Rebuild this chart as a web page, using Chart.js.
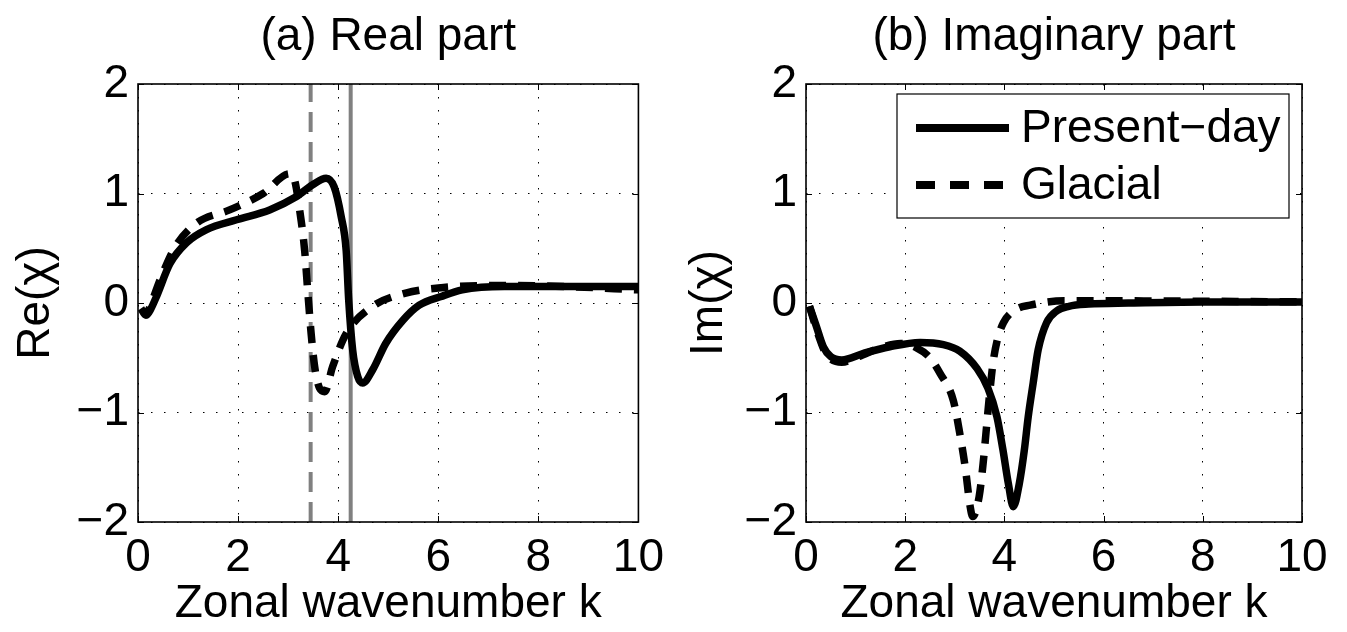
<!DOCTYPE html>
<html><head><meta charset="utf-8">
<script src="https://cdn.jsdelivr.net/npm/chart.js@4.4.0/dist/chart.umd.min.js"></script>
<style>
html,body{margin:0;padding:0;background:#fff;}
#wrap{position:relative;width:1347px;height:632px;overflow:hidden;background:#fff;}
canvas{position:absolute;top:0;}
</style></head><body>
<div id="wrap">
<canvas id="c1" width="673" height="632" style="left:0"></canvas>
<canvas id="c2" width="674" height="632" style="left:673px"></canvas>
</div>
<script>
// ---- data ----
const xTicks = [0, 2, 4, 6, 8, 10];
const yTicks = [-2, -1, 0, 1, 2];
const seriesLabels = ['Present\u2212day', 'Glacial'];
const panelTitles = ['(a) Real part', '(b) Imaginary part'];
const yTitles = ['Re(\u03C7)', 'Im(\u03C7)'];
const xTitle = 'Zonal wavenumber k';
const refK = [3.45, 4.25]; // grey reference lines (glacial dashed, present solid)

const rePresentK = [0.10,0.17,0.25,0.37,0.64,0.97,1.37,1.97,2.63,3.16,3.49,3.76,3.92,4.06,4.16,4.21,4.29,4.39,4.49,4.69,4.95,5.29,5.62,6.06,6.48,7.32,8.15,9.00,10.0];
const rePresent  = [-0.06,-0.11,-0.06,0.06,0.36,0.55,0.67,0.76,0.85,0.97,1.08,1.14,1.06,0.79,0.48,0.03,-0.43,-0.67,-0.73,-0.61,-0.37,-0.16,-0.02,0.06,0.12,0.15,0.15,0.15,0.15];

const reGlacialK = [0.06,0.15,0.25,0.44,0.74,1.17,1.83,2.50,3.03,3.13,3.23,3.33,3.39,3.46,3.53,3.63,3.73,3.89,4.16,4.69,5.35,6.06,7.32,8.57,10.0];
const reGlacial  = [-0.05,-0.11,-0.02,0.21,0.51,0.73,0.85,1.00,1.18,1.12,0.85,0.48,0.12,-0.28,-0.58,-0.78,-0.81,-0.58,-0.28,-0.03,0.09,0.14,0.16,0.15,0.12];

const imPresentK = [0.07,0.20,0.35,0.50,0.72,1.16,1.69,2.30,2.77,3.10,3.45,3.67,3.85,3.97,4.08,4.18,4.30,4.40,4.48,4.58,4.68,4.85,5.06,5.30,5.70,6.50,8.00,10.0];
const imPresent  = [-0.03,-0.20,-0.40,-0.49,-0.52,-0.46,-0.40,-0.36,-0.38,-0.44,-0.60,-0.78,-1.04,-1.34,-1.65,-1.86,-1.65,-1.35,-1.04,-0.73,-0.43,-0.18,-0.07,-0.03,-0.01,0.00,0.01,0.01];

const imGlacialK = [0.07,0.24,0.40,0.72,1.06,1.49,1.91,2.23,2.50,2.70,2.97,3.10,3.21,3.31,3.36,3.49,3.57,3.64,3.70,3.77,3.85,3.98,4.23,4.52,5.20,6.00,10.0];
const imGlacial  = [-0.03,-0.28,-0.46,-0.54,-0.49,-0.41,-0.37,-0.41,-0.50,-0.64,-0.89,-1.19,-1.50,-1.86,-1.95,-1.77,-1.47,-1.13,-0.84,-0.55,-0.35,-0.18,-0.06,-0.02,0.02,0.02,0.01];

// ---- style ----
const FAMILY = "'Liberation Sans', Arial, Helvetica, sans-serif";
const FS = 46;
const H = 632, PLOT_TOP = 84, PLOT_BOTTOM = 522;

function pts(ks, vs) { return ks.map((k, i) => ({x: k, y: vs[i]})); }
const minus = s => String(s).replace('-', '\u2212');

const framePlugin = {
  id: 'frame',
  afterDatasetsDraw(chart) {
    const {ctx, chartArea: a, scales: {x, y}} = chart;
    const TL = 6;
    ctx.save();
    ctx.setLineDash([]);
    ctx.strokeStyle = '#000';
    ctx.lineWidth = 1;
    ctx.beginPath();
    xTicks.forEach(v => {
      const px = Math.round(x.getPixelForValue(v)) + 0.5;
      ctx.moveTo(px, a.bottom); ctx.lineTo(px, a.bottom - TL);
      ctx.moveTo(px, a.top); ctx.lineTo(px, a.top + TL);
    });
    yTicks.forEach(v => {
      const py = Math.round(y.getPixelForValue(v)) + 0.5;
      ctx.moveTo(a.left, py); ctx.lineTo(a.left + TL, py);
      ctx.moveTo(a.right, py); ctx.lineTo(a.right - TL, py);
    });
    ctx.stroke();
    ctx.lineWidth = 1.6;
    ctx.strokeRect(a.left, a.top, a.right - a.left, a.bottom - a.top);
    ctx.restore();
  },
  afterDraw(chart, args, opts) {
    const {ctx, chartArea: a} = chart;
    ctx.save();
    ctx.fillStyle = '#000';
    ctx.font = FS + 'px ' + FAMILY;
    ctx.textAlign = 'center';
    ctx.textBaseline = 'middle';
    ctx.fillText(opts.title || '', (a.left + a.right) / 2, 37);
    if (opts.legend) {
      const L = opts.legend;
      ctx.fillStyle = '#fff';
      ctx.fillRect(L.x, L.y, L.w, L.h);
      ctx.strokeStyle = '#000';
      ctx.lineWidth = 1.2;
      ctx.strokeRect(L.x, L.y, L.w, L.h);
      const ds = chart.data.datasets;
      [0, 1].forEach(i => {
        const cy = L.y + L.rows[i];
        ctx.strokeStyle = ds[i].borderColor;
        ctx.lineWidth = 8;
        ctx.lineCap = 'butt';
        ctx.setLineDash(ds[i].legendDash || []);
        ctx.beginPath();
        ctx.moveTo(L.x + 19, cy); ctx.lineTo(L.x + 112, cy);
        ctx.stroke();
        ctx.setLineDash([]);
        ctx.fillStyle = '#000';
        ctx.textAlign = 'left';
        ctx.textBaseline = 'middle';
        ctx.fillText(ds[i].label, L.x + 124, cy + 1);
      });
    }
    ctx.restore();
  }
};

function makeChart(id, W, plotLeft, plotRight, datasets, title, yTitle, legend) {
  const font = {family: FAMILY, size: FS};
  return new Chart(document.getElementById(id), {
    type: 'line',
    data: {datasets},
    options: {
      responsive: false, animation: false, devicePixelRatio: 1,
      layout: {padding: {top: PLOT_TOP, left: 0, right: W - plotRight, bottom: 0}},
      plugins: {legend: {display: false}, tooltip: {enabled: false},
        frame: {title, legend}},
      elements: {point: {radius: 0}},
      scales: {
        x: {
          type: 'linear', min: xTicks[0], max: xTicks[xTicks.length - 1],
          afterBuildTicks: s => { s.ticks = xTicks.map(v => ({value: v})); },
          afterFit: s => { s.height = H - PLOT_BOTTOM; },
          ticks: {font, color: '#000', padding: 9, maxRotation: 0, autoSkip: false, callback: v => minus(v)},
          grid: {color: '#000', lineWidth: 1, drawTicks: false},
          border: {display: false, dash: [1.5, 11.5]},
          title: {display: true, text: xTitle, font, color: '#000', padding: {top: 0, bottom: 0}}
        },
        y: {
          type: 'linear', min: yTicks[0], max: yTicks[yTicks.length - 1],
          afterBuildTicks: s => { s.ticks = yTicks.map(v => ({value: v})); },
          afterFit: s => { s.width = plotLeft; },
          ticks: {font, color: '#000', padding: 9, callback: v => minus(v)},
          grid: {color: '#000', lineWidth: 1, drawTicks: false},
          border: {display: false, dash: [1.5, 11.5]},
          title: {display: true, text: yTitle, font, color: '#000', padding: {top: 9, bottom: 0}}
        }
      }
    },
    plugins: [framePlugin]
  });
}

function curveSets(pk, pv, gk, gv) {
  return [
    {label: seriesLabels[0], data: pts(pk, pv), borderColor: '#000', borderWidth: 7.5,
     cubicInterpolationMode: 'monotone', borderCapStyle: 'butt', borderJoinStyle: 'round', legendDash: []},
    {label: seriesLabels[1], data: pts(gk, gv), borderColor: '#000', borderWidth: 7.5,
     cubicInterpolationMode: 'monotone', borderCapStyle: 'butt', borderJoinStyle: 'round',
     borderDash: [17, 12], legendDash: [19, 15]}
  ];
}

const yLo = yTicks[0], yHi = yTicks[yTicks.length - 1];
const leftSets = curveSets(rePresentK, rePresent, reGlacialK, reGlacial).concat([
  {label: 'ref-present', data: [{x: refK[1], y: yLo}, {x: refK[1], y: yHi}], borderColor: '#808080', borderWidth: 4},
  {label: 'ref-glacial', data: [{x: refK[0], y: yLo}, {x: refK[0], y: yHi}], borderColor: '#808080', borderWidth: 4, borderDash: [20, 10]}
]);
const rightSets = curveSets(imPresentK, imPresent, imGlacialK, imGlacial);

makeChart('c1', 673, 138, 640, leftSets, panelTitles[0], yTitles[0], null);
makeChart('c2', 674, 133, 629, rightSets, panelTitles[1], yTitles[1],
  {x: 224, y: 94, w: 392, h: 124, rows: [34, 91]});
</script>
</body></html>
